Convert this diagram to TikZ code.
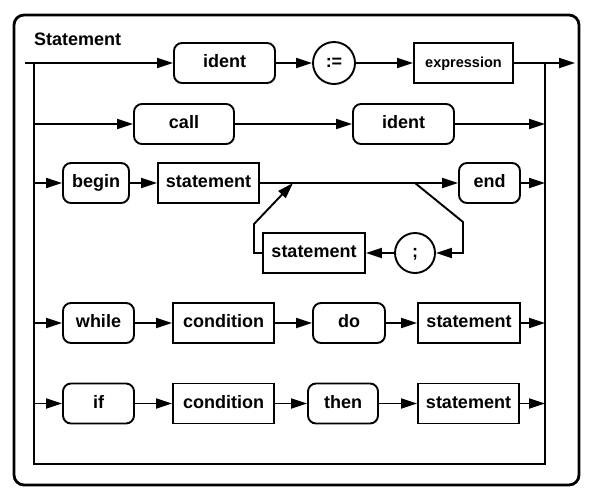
\documentclass[tikz,border=0pt]{standalone}
\usepackage{fontspec}
\setmainfont{Liberation Sans}
\usetikzlibrary{arrows.meta}
\tikzset{
  base/.style={draw, line width=1.9pt, inner sep=0pt, minimum height=40pt,
    text height=13pt, text depth=4pt,
    font=\fontsize{18}{21}\selectfont\bfseries},
  term/.style={base, rounded corners=8pt},
  nonterm/.style={base},
  circ/.style={base, circle, minimum size=42pt},
  conn/.style={line width=1.9pt},
  arr/.style={conn, -{Triangle[length=16pt,width=10pt]}},
}
\begin{document}
\begin{tikzpicture}[x=1pt, y=-1pt]
\useasboundingbox (0,0) rectangle (596,501);
\draw[line width=2.8pt, rounded corners=10pt] (14,15) rectangle (579,485);
\node[anchor=base west, inner sep=0pt, font=\fontsize{18}{21}\selectfont\bfseries] (title) at (34,45) {Statement};

% row 1
\node[term, minimum width=101pt] (ident1) at (224.5,63) {ident};
\node[circ] (assign) at (334,63) {:=};
\node[nonterm, minimum width=99pt, text height=11pt, text depth=3pt, font=\fontsize{14.5}{17}\selectfont\bfseries] (expr) at (463.5,63) {expression};
% row 2
\node[term, minimum width=100pt] (call) at (184,124) {call};
\node[term, minimum width=101pt] (ident2) at (403.5,124) {ident};
% row 3
\node[term, minimum width=66pt] (begin) at (96,183) {begin};
\node[nonterm, minimum width=101pt] (stmt1) at (208.5,183) {statement};
\node[term, minimum width=61pt] (end) at (489.5,183) {end};
\node[circ, minimum size=40pt] (semi) at (415,253) {;};
\node[nonterm, minimum width=102pt] (stmt2) at (314,253) {statement};
% row 4
\node[term, minimum width=71pt] (while) at (98.5,323) {while};
\node[nonterm, minimum width=101pt] (cond1) at (223.5,323) {condition};
\node[term, minimum width=72pt] (do) at (349,323) {do};
\node[nonterm, minimum width=102pt] (stmt3) at (469,323) {statement};
% row 5
\node[term, minimum width=71pt] (if) at (98.5,403.5) {if};
\node[nonterm, minimum width=101pt] (cond2) at (223.5,403.5) {condition};
\node[term, minimum width=70pt] (then) at (343,403.5) {then};
\node[nonterm, minimum width=101pt] (stmt4) at (468.5,403.5) {statement};

% frame coordinates
\coordinate (s1) at (25,63);
\coordinate (e1) at (575,63);
\coordinate (L1) at (34,63);
\coordinate (L2) at (34,124);
\coordinate (L3) at (34,183);
\coordinate (L4) at (34,323);
\coordinate (L5) at (34,403.5);
\coordinate (Lb) at (34,464);
\coordinate (Rb) at (545,464);
\coordinate (R1) at (545,63);
\coordinate (R2) at (545,124);
\coordinate (R3) at (545,183);
\coordinate (R4) at (545,323);
\coordinate (R5) at (545,403.5);
\coordinate (b1) at (415,183);
\coordinate (b2) at (463,222);
\coordinate (b3) at (463,253);
\coordinate (c1) at (254,253);
\coordinate (c2) at (254,224);
\coordinate (c3) at (293,183);

\draw[conn] (L1) -- (Lb) -- (Rb) -- (R1);
% row 1
\draw[arr] (s1) -- (ident1);
\draw[arr] (ident1) -- (assign);
\draw[arr] (assign) -- (expr);
\draw[arr] (expr) -- (e1);
% row 2
\draw[arr] (L2) -- (call);
\draw[arr] (call) -- (ident2);
\draw[arr] (ident2) -- (R2);
% row 3
\draw[arr] (L3) -- (begin);
\draw[arr] (begin) -- (stmt1);
\draw[arr] (stmt1) -- (end);
\draw[arr] (end) -- (R3);
\draw[arr] (b1) -- (b2) -- (b3) -- (semi);
\draw[arr] (semi) -- (stmt2);
\draw[arr] (stmt2.west) -- (c1) -- (c2) -- (c3);
% row 4
\draw[arr] (L4) -- (while);
\draw[arr] (while) -- (cond1);
\draw[arr] (cond1) -- (do);
\draw[arr] (do) -- (stmt3);
\draw[arr] (stmt3) -- (R4);
% row 5
\draw[arr] (L5) -- (if);
\draw[arr] (if) -- (cond2);
\draw[arr] (cond2) -- (then);
\draw[arr] (then) -- (stmt4);
\draw[arr] (stmt4) -- (R5);
\end{tikzpicture}
\end{document}
